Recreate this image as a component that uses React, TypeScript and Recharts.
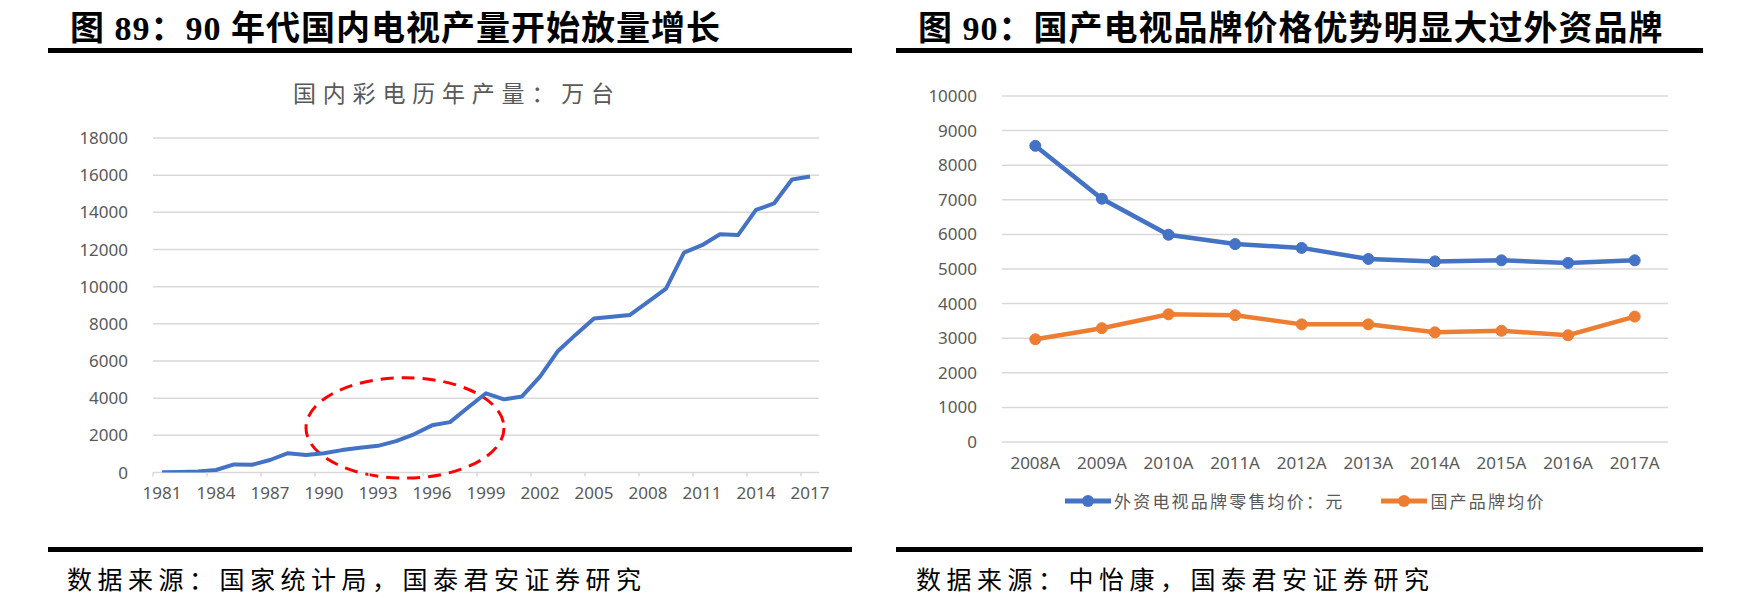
import React from 'react';
import { LineChart, Line, XAxis, YAxis, CartesianGrid, ReferenceArea, Legend } from 'recharts';

// ---------- Left chart data ----------
const years = [
  '1981', '1982', '1983', '1984', '1985', '1986', '1987', '1988', '1989', '1990',
  '1991', '1992', '1993', '1994', '1995', '1996', '1997', '1998', '1999', '2000',
  '2001', '2002', '2003', '2004', '2005', '2006', '2007', '2008', '2009', '2010',
  '2011', '2012', '2013', '2014', '2015', '2016', '2017',
];
const tvOutput = [
  15.2, 28.8, 53.1, 133.9, 435.3, 414.6, 672.7, 1037.7, 940.0, 1033.0,
  1205.1, 1333.1, 1435.8, 1689.2, 2057.7, 2537.6, 2711.3, 3497.0, 4262.0, 3936.0,
  4093.7, 5155.0, 6541.4, 7431.8, 8283.2, 8375.4, 8478.0, 9187.0, 9899.0, 11830.0,
  12231.0, 12824.0, 12776.0, 14129.0, 14476.0, 15770.0, 15933.0,
];
const leftTicks = [0, 2000, 4000, 6000, 8000, 10000, 12000, 14000, 16000, 18000];
const leftTitle = '图 89：90 年代国内电视产量开始放量增长';
const leftSubtitle = '国内彩电历年产量：万台';
const leftSource = '数据来源：国家统计局，国泰君安证券研究';
const highlightYears = ['1989', '2000'];
const highlightValues = [-300, 5100];

// ---------- Right chart data ----------
const brandYears = ['2008A', '2009A', '2010A', '2011A', '2012A', '2013A', '2014A', '2015A', '2016A', '2017A'];
const foreignPrice = [8560, 7030, 5990, 5720, 5610, 5290, 5220, 5250, 5175, 5250];
const domesticPrice = [2970, 3290, 3690, 3665, 3400, 3400, 3170, 3215, 3085, 3625];
const rightTicks = [0, 1000, 2000, 3000, 4000, 5000, 6000, 7000, 8000, 9000, 10000];
const seriesNames = ['外资电视品牌零售均价：元', '国产品牌均价'];
const rightTitle = '图 90：国产电视品牌价格优势明显大过外资品牌';
const rightSource = '数据来源：中怡康，国泰君安证券研究';

const leftData = years.map((y, i) => ({ year: y, value: tvOutput[i] }));
const rightData = brandYears.map((y, i) => ({ year: y, foreign: foreignPrice[i], domestic: domesticPrice[i] }));

// ---------- Styles ----------
const BLUE = '#4472C4';
const ORANGE = '#ED7D31';
const GRID = '#D9D9D9';
const LABEL = '#595959';
const TICK_FONT = '"Noto Sans", "Liberation Sans", sans-serif';
const CJK_FONT = '"Noto Sans CJK SC", "Noto Sans", sans-serif';
const TITLE_FONT = '"Liberation Serif", "Noto Sans CJK SC", serif';

const CHART_W = 872;
const CHART_H = 598;
const L_MARGIN = { top: 138, right: 53, bottom: 95.5, left: 0 };
const L_YAXIS_W = 153;
const L_BAND = (CHART_W - L_MARGIN.left - L_YAXIS_W - L_MARGIN.right) / years.length;
const L_TICK_SIZE = 4;
const L_TICK_MARGIN = 10;

const R_MARGIN = { top: 96, right: 76, bottom: 102, left: 0 };
const R_YAXIS_W = 130;
const R_BAND = (CHART_W - R_MARGIN.left - R_YAXIS_W - R_MARGIN.right) / brandYears.length;

const tickStyle = { fill: LABEL, fontSize: 17, fontFamily: TICK_FONT };

function YearTick(props: any) {
  const { x, y, payload } = props;
  const axisY = y - L_TICK_SIZE - L_TICK_MARGIN;
  const lx = x - L_BAND / 2;
  return (
    <g>
      <line x1={lx} x2={lx} y1={axisY} y2={axisY + L_TICK_SIZE} stroke={GRID} strokeWidth={1.5} />
      <text x={x} y={y} dy="0.71em" textAnchor="middle" fill={LABEL} fontSize={17} fontFamily={TICK_FONT}>
        {payload.value}
      </text>
    </g>
  );
}

function EllipseShape(props: any) {
  const { x, y, width, height } = props;
  if (x == null || y == null) return null;
  return (
    <ellipse
      cx={x + width / 2}
      cy={y + height / 2}
      rx={Math.abs(width) / 2}
      ry={Math.abs(height) / 2}
      fill="none"
      stroke="#FF0000"
      strokeWidth={3}
      strokeDasharray="13 8"
    />
  );
}

function LegendContent(props: any) {
  const { payload } = props;
  const items = [...(payload || [])].sort(
    (a: any, b: any) => seriesNames.indexOf(a.value) - seriesNames.indexOf(b.value)
  );
  return (
    <div style={{ display: 'flex', alignItems: 'center', height: 24, whiteSpace: 'nowrap' }}>
      {items.map((entry: any, i: number) => (
        <div key={i} style={{ display: 'flex', alignItems: 'center', marginRight: i === 0 ? 37 : 0 }}>
          <svg width={46} height={24} style={{ display: 'block' }}>
            <line x1={0} x2={46} y1={12} y2={12} stroke={entry.color} strokeWidth={5} />
            <circle cx={23} cy={12} r={6} fill={entry.color} />
          </svg>
          <span
            style={{
              marginLeft: 3,
              fontFamily: CJK_FONT,
              fontSize: 17,
              letterSpacing: 2.2,
              color: LABEL,
              lineHeight: '24px',
            }}
          >
            {entry.value}
          </span>
        </div>
      ))}
    </div>
  );
}

const abs = (style: React.CSSProperties): React.CSSProperties => ({ position: 'absolute', ...style });

export default function App() {
  return (
    <div style={abs({ left: 0, top: 0, width: 1744, height: 598, background: '#fff', overflow: 'hidden' })}>
      {/* Left panel headers */}
      <div
        style={abs({
          left: 70, top: 12, fontFamily: TITLE_FONT, fontWeight: 700, fontSize: 34,
          lineHeight: '34px', letterSpacing: 1, color: '#000', whiteSpace: 'nowrap',
        })}
      >
        {leftTitle}
      </div>
      <div style={abs({ left: 48, top: 48, width: 804, height: 5, background: '#000' })} />
      <div
        style={abs({
          left: 293, top: 81, fontFamily: CJK_FONT, fontSize: 23, lineHeight: '23px',
          letterSpacing: 6.8, color: LABEL, whiteSpace: 'nowrap',
        })}
      >
        {leftSubtitle}
      </div>

      {/* Left chart */}
      <div style={abs({ left: 0, top: 0 })}>
        <LineChart width={CHART_W} height={CHART_H} data={leftData} margin={L_MARGIN}>
          <CartesianGrid vertical={false} stroke={GRID} strokeWidth={1.5} />
          <XAxis
            dataKey="year"
            axisLine={false}
            tickLine={false}
            tickSize={L_TICK_SIZE}
            tickMargin={L_TICK_MARGIN}
            height={30}
            interval={2}
            padding={{ left: L_BAND / 2, right: L_BAND / 2 }}
            tick={<YearTick />}
          />
          <YAxis
            domain={[0, 18000]}
            ticks={leftTicks}
            width={L_YAXIS_W}
            axisLine={false}
            tickLine={false}
            tickSize={6}
            tickMargin={19}
            tick={tickStyle}
            allowDataOverflow
          />
          <Line
            dataKey="value"
            stroke={BLUE}
            strokeWidth={4}
            dot={false}
            strokeLinejoin="round"
            isAnimationActive={false}
          />
          <ReferenceArea
            x1={highlightYears[0]}
            x2={highlightYears[1]}
            y1={highlightValues[0]}
            y2={highlightValues[1]}
            ifOverflow="visible"
            shape={<EllipseShape />}
          />
        </LineChart>
      </div>

      {/* Left footer */}
      <div style={abs({ left: 48, top: 547, width: 804, height: 5, background: '#000' })} />
      <div
        style={abs({
          left: 67, top: 566, fontFamily: CJK_FONT, fontSize: 25, lineHeight: '25px',
          letterSpacing: 5.5, color: '#000', whiteSpace: 'nowrap',
        })}
      >
        {leftSource}
      </div>

      {/* Right panel headers */}
      <div
        style={abs({
          left: 918, top: 12, fontFamily: TITLE_FONT, fontWeight: 700, fontSize: 34,
          lineHeight: '34px', letterSpacing: 1, color: '#000', whiteSpace: 'nowrap',
        })}
      >
        {rightTitle}
      </div>
      <div style={abs({ left: 896, top: 48, width: 807, height: 5, background: '#000' })} />

      {/* Right chart */}
      <div style={abs({ left: 872, top: 0 })}>
        <LineChart width={CHART_W} height={CHART_H} data={rightData} margin={R_MARGIN}>
          <CartesianGrid vertical={false} stroke={GRID} strokeWidth={1.5} />
          <XAxis
            dataKey="year"
            axisLine={false}
            tickLine={false}
            tickSize={4}
            tickMargin={11}
            height={30}
            interval={0}
            padding={{ left: R_BAND / 2, right: R_BAND / 2 }}
            tick={tickStyle}
          />
          <YAxis
            domain={[0, 10000]}
            ticks={rightTicks}
            width={R_YAXIS_W}
            axisLine={false}
            tickLine={false}
            tickSize={6}
            tickMargin={19}
            tick={tickStyle}
          />
          <Line
            dataKey="foreign"
            name={seriesNames[0]}
            stroke={BLUE}
            strokeWidth={4.5}
            dot={{ r: 5.5, fill: BLUE, stroke: BLUE, strokeWidth: 1 }}
            isAnimationActive={false}
          />
          <Line
            dataKey="domestic"
            name={seriesNames[1]}
            stroke={ORANGE}
            strokeWidth={4.5}
            dot={{ r: 5.5, fill: ORANGE, stroke: ORANGE, strokeWidth: 1 }}
            isAnimationActive={false}
          />
          <Legend
            content={<LegendContent />}
            wrapperStyle={{ left: 193, top: 489, width: 'auto', height: 24 }}
          />
        </LineChart>
      </div>

      {/* Right footer */}
      <div style={abs({ left: 896, top: 547, width: 807, height: 5, background: '#000' })} />
      <div
        style={abs({
          left: 916, top: 566, fontFamily: CJK_FONT, fontSize: 25, lineHeight: '25px',
          letterSpacing: 5.5, color: '#000', whiteSpace: 'nowrap',
        })}
      >
        {rightSource}
      </div>
    </div>
  );
}
